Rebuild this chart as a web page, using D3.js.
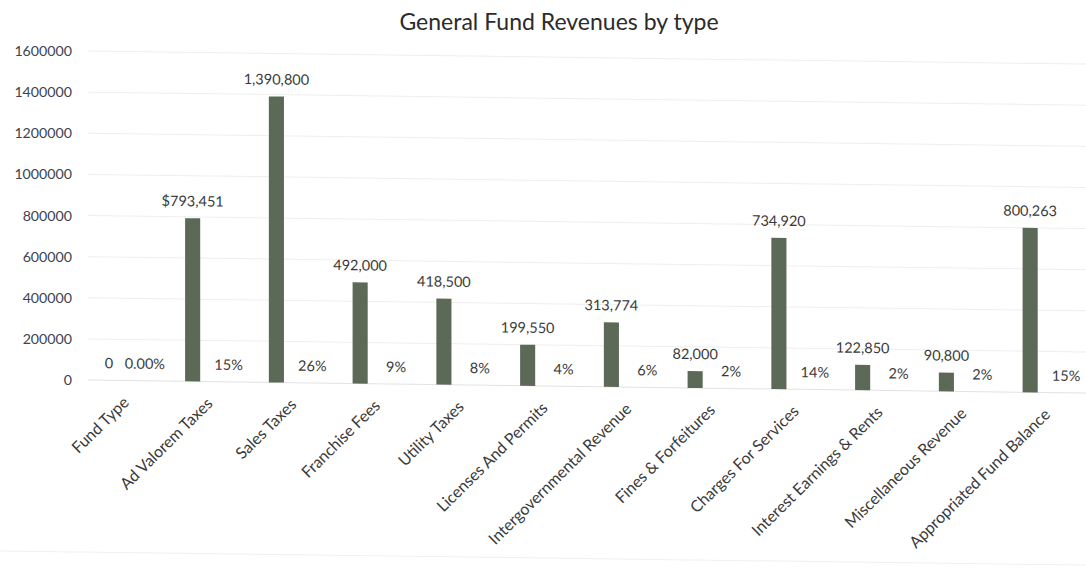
<!DOCTYPE html>
<html>
<head>
<meta charset="utf-8">
<script src="https://cdn.jsdelivr.net/npm/d3@7/dist/d3.min.js"></script>
<style>
  html, body { margin: 0; padding: 0; background: #ffffff; }
  svg { display: block; }
  text { font-family: Lato, "Open Sans", sans-serif; fill: #3a3a3a; }
</style>
</head>
<body>
<svg id="chart" width="1086" height="568"></svg>
<script>
// Revenue categories and amounts
const categories = [
  "Fund Type", "Ad Valorem Taxes", "Sales Taxes", "Franchise Fees", "Utility Taxes",
  "Licenses And Permits", "Intergovernmental Revenue", "Fines & Forfeitures",
  "Charges For Services", "Interest Earnings & Rents", "Miscellaneous Revenue",
  "Appropriated Fund Balance"
];
const amounts = [0, 793451, 1390800, 492000, 418500, 199550, 313774, 82000, 734920, 122850, 90800, 800263];
const amountLabels = ["0", "$793,451", "1,390,800", "492,000", "418,500", "199,550", "313,774",
  "82,000", "734,920", "122,850", "90,800", "800,263"];
// Share of total revenue (second series, plotted on the same axis)
const shares = [0, 0.15, 0.26, 0.09, 0.08, 0.04, 0.06, 0.02, 0.14, 0.02, 0.02, 0.15];
const shareLabels = ["0.00%", "15%", "26%", "9%", "8%", "4%", "6%", "2%", "14%", "2%", "2%", "15%"];
const yTicks = [0, 200000, 400000, 600000, 800000, 1000000, 1200000, 1400000, 1600000];
const seriesNames = ["amount", "share"];

const svg = d3.select("#chart");
const W = 1086, H = 568;
const plotLeft = 85, plotRight = 1090, plotTop = 51, plotBottom = 380;
const barColor = "#5b6956";

// Title
svg.append("text")
  .attr("x", 559).attr("y", 30)
  .attr("text-anchor", "middle")
  .style("font-size", "23px")
  .style("fill", "#2b2b2b")
  .text("General Fund Revenues by type");

// Plot group, sheared slightly as on the printed page
const g = svg.append("g")
  .attr("transform", `translate(${plotLeft},0) skewY(0.75) translate(${-plotLeft},0)`);

const y = d3.scaleLinear().domain([0, 1600000]).range([plotBottom, plotTop]);
const x0 = d3.scaleBand().domain(categories).range([plotLeft, plotRight]).padding(0);
const x1 = d3.scaleBand().domain(seriesNames).range([0, x0.bandwidth()])
  .paddingInner(0.58).paddingOuter(0.455);

// Gridlines
g.append("g").selectAll("line").data(yTicks).join("line")
  .attr("x1", 88).attr("x2", plotRight + 10)
  .attr("y1", d => y(d)).attr("y2", d => y(d))
  .attr("stroke", d => d === 0 ? "#e2e2e2" : "#eeeeee")
  .attr("stroke-width", 1);

// Y axis labels
const yAxis = d3.axisLeft(y).tickValues(yTicks).tickFormat(d3.format("d")).tickSize(0).tickPadding(0);
const yAxisG = svg.append("g").attr("transform", "translate(72,0)").call(yAxis);
yAxisG.select(".domain").remove();
yAxisG.selectAll("text")
  .style("font-size", "14.2px")
  .style("font-family", "Lato, sans-serif")
  .style("fill", "#3d4350");

const rows = categories.map((c, i) => ({
  cat: c, amount: amounts[i], amountLabel: amountLabels[i],
  share: shares[i], shareLabel: shareLabels[i]
}));

// Amount bars
g.append("g").selectAll("rect").data(rows).join("rect")
  .attr("x", d => x0(d.cat) + x1("amount"))
  .attr("width", x1.bandwidth())
  .attr("y", d => y(d.amount))
  .attr("height", d => y(0) - y(d.amount))
  .attr("fill", barColor);

// Share bars (too small to show at this scale)
g.append("g").selectAll("rect").data(rows).join("rect")
  .attr("x", d => x0(d.cat) + x1("share"))
  .attr("width", x1.bandwidth())
  .attr("y", d => y(d.share))
  .attr("height", d => y(0) - y(d.share))
  .attr("fill", barColor);

// Amount labels
g.append("g").selectAll("text").data(rows).join("text")
  .attr("x", d => x0(d.cat) + x1("amount") + x1.bandwidth() / 2)
  .attr("y", d => y(d.amount) - 12)
  .attr("text-anchor", "middle")
  .style("font-size", "14.5px")
  .text(d => d.amountLabel);

// Share labels
g.append("g").selectAll("text").data(rows).join("text")
  .attr("x", d => x0(d.cat) + x1("share") + x1.bandwidth() / 2)
  .attr("y", d => y(d.share) - 12)
  .attr("text-anchor", "middle")
  .style("font-size", "14.5px")
  .text(d => d.shareLabel);

// Category labels, rotated
g.append("g").selectAll("text").data(categories).join("text")
  .attr("transform", d => `translate(${x0(d) + x0.bandwidth() / 2 + 3},${plotBottom + 23}) rotate(-45)`)
  .attr("text-anchor", "end")
  .style("font-size", "16px")
  .text(d => d);

// Chart frame bottom edge
g.append("line")
  .attr("x1", 0).attr("x2", W)
  .attr("y1", 552).attr("y2", 552)
  .attr("stroke", "#f0f0f0");
</script>
</body>
</html>
